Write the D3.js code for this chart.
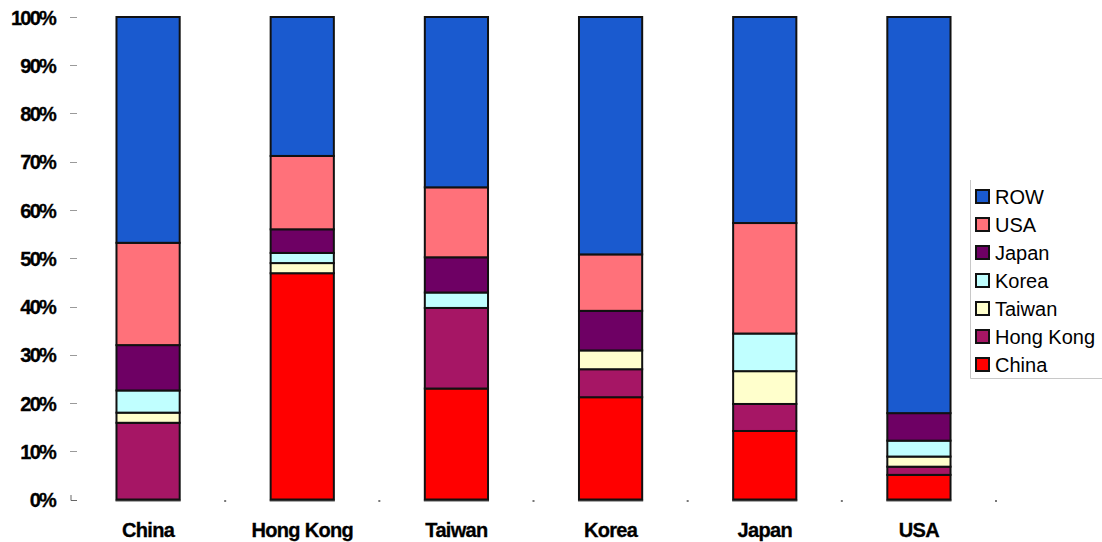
<!DOCTYPE html>
<html>
<head>
<meta charset="utf-8">
<script src="https://cdn.jsdelivr.net/npm/d3@7"></script>
<style>
  html, body { margin: 0; padding: 0; background: #fff; }
  svg { display: block; }
</style>
</head>
<body>
<svg id="chart" width="1102" height="542"></svg>
<script>
// Reporting economies (one stacked bar each)
const economies = ["China", "Hong Kong", "Taiwan", "Korea", "Japan", "USA"];

// Share of each partner in the economy's total, in percent
const china    = [0,    46.9, 23.0, 21.2, 14.2, 5.1];
const hongKong = [15.9, 0,    16.7, 5.8,  5.6,  1.7];
const taiwan   = [2.1,  2.1,  0,    3.9,  6.8,  2.1];
const korea    = [4.6,  2.1,  3.2,  0,    7.8,  3.3];
const japan    = [9.4,  4.9,  7.3,  8.2,  0,    5.7];
const usa      = [21.2, 15.2, 14.5, 11.7, 22.9, 0];
const row      = [46.8, 28.8, 35.3, 49.2, 42.7, 82.1];

// Partner series, bottom to top
const partners = ["China", "Hong Kong", "Taiwan", "Korea", "Japan", "USA", "ROW"];
const partnerValues = [china, hongKong, taiwan, korea, japan, usa, row];
const partnerColors = ["#ff0000", "#a61665", "#ffffcc", "#c0ffff", "#6e0064", "#ff717a", "#1a5acf"];

const yTicks = [0, 10, 20, 30, 40, 50, 60, 70, 80, 90, 100];

const table = economies.map((e, i) => {
  const r = { economy: e };
  partners.forEach((p, j) => { r[p] = partnerValues[j][i]; });
  return r;
});

const svg = d3.select("#chart");

const x = d3.scaleBand().domain(economies).range([71, 996]).paddingInner(0).paddingOuter(0);
const y = d3.scaleLinear().domain([0, 100]).range([499.5, 17]);
const color = d3.scaleOrdinal().domain(partners).range(partnerColors);

const barW = x.bandwidth() * 0.41;
const barX = d => x(d) + (x.bandwidth() - barW) / 2;

const stack = d3.stack().keys(partners);
const layers = stack(table);

// Y axis: labels and small ticks
const yAxis = d3.axisLeft(y)
  .tickValues(yTicks)
  .tickFormat(d => d + "%")
  .tickSize(0)
  .tickPadding(0);

const gy = svg.append("g").attr("transform", "translate(55,0)").call(yAxis);
gy.select(".domain").remove();
gy.selectAll("text")
  .attr("font-family", "'Liberation Sans', Arial, sans-serif")
  .attr("font-weight", "bold")
  .attr("font-size", 20)
  .attr("letter-spacing", "-1.8px")
  .attr("fill", "#000")
  .attr("stroke", "#000")
  .attr("stroke-width", 0.3)
  .attr("dy", "0.35em");

svg.append("g").selectAll("line")
  .data(yTicks.filter(d => d > 0))
  .join("line")
  .attr("x1", 70).attr("x2", 77)
  .attr("y1", d => Math.round(y(d)) + 0.5).attr("y2", d => Math.round(y(d)) + 0.5)
  .attr("stroke", "#9a9a9a")
  .attr("stroke-width", 1);

// corner at the origin
svg.append("path")
  .attr("d", `M71,495V500.5H77`)
  .attr("fill", "none")
  .attr("stroke", "#666")
  .attr("stroke-width", 1);

// X axis: category labels and dotted band boundaries
const xAxis = d3.axisBottom(x).tickSize(0).tickPadding(0);
const gx = svg.append("g").attr("transform", "translate(0,537)").call(xAxis);
gx.select(".domain").remove();
gx.selectAll("text")
  .attr("font-family", "'Liberation Sans', Arial, sans-serif")
  .attr("font-weight", "bold")
  .attr("font-size", 20)
  .attr("letter-spacing", "-0.7px")
  .attr("fill", "#000")
  .attr("stroke", "#000")
  .attr("stroke-width", 0.3)
  .attr("dy", 0)
  .attr("y", 0);

const boundaries = economies.slice(1).map(e => x(e)).concat([x.range()[1]]);
svg.append("g").selectAll("rect")
  .data(boundaries)
  .join("rect")
  .attr("x", d => d - 1).attr("y", 500)
  .attr("width", 2).attr("height", 2)
  .attr("fill", "#777");

// Grey base strip under each bar
svg.append("g").selectAll("rect")
  .data(economies)
  .join("rect")
  .attr("x", d => barX(d) - 1)
  .attr("y", 499.5)
  .attr("width", barW + 2)
  .attr("height", 2)
  .attr("fill", "#555");

// Stacked bars
svg.append("g")
  .selectAll("g")
  .data(layers)
  .join("g")
  .attr("fill", d => color(d.key))
  .selectAll("rect")
  .data(d => d.filter(s => s[1] - s[0] > 0))
  .join("rect")
  .attr("x", d => barX(d.data.economy))
  .attr("y", d => y(d[1]))
  .attr("width", barW)
  .attr("height", d => y(d[0]) - y(d[1]))
  .attr("stroke", "#111")
  .attr("stroke-width", 2);

// Legend (top entry = top of stack)
const legend = svg.append("g");
legend.append("path")
  .attr("d", "M970.5,180V378.5H1102")
  .attr("fill", "none")
  .attr("stroke", "#c8c8c8")
  .attr("stroke-width", 1);

const legendItems = partners.slice().reverse();
const li = legend.selectAll("g.item")
  .data(legendItems)
  .join("g")
  .attr("class", "item")
  .attr("transform", (d, i) => `translate(0,${197 + i * 28})`);

li.append("rect")
  .attr("x", 976).attr("y", -7)
  .attr("width", 13).attr("height", 13)
  .attr("fill", d => color(d))
  .attr("stroke", "#111")
  .attr("stroke-width", 2);

li.append("text")
  .attr("x", 995)
  .attr("y", 0)
  .attr("dy", "0.36em")
  .attr("font-family", "'Liberation Sans', Arial, sans-serif")
  .attr("font-size", 20)
  .attr("fill", "#000")
  .text(d => d);
</script>
</body>
</html>
